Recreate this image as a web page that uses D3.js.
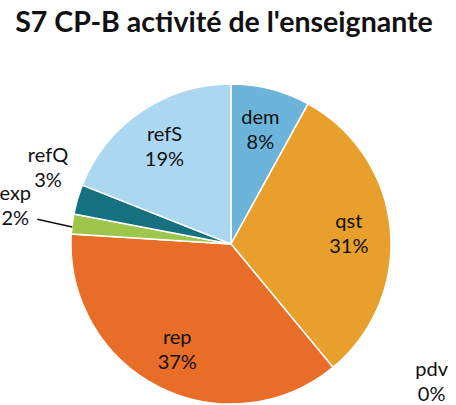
<!DOCTYPE html>
<html lang="fr">
<head>
  <meta charset="UTF-8">
  <title>S7 CP-B activité de l'enseignante</title>
  <script src="https://d3js.org/d3.v7.min.js"></script>
  <style>
    body { margin: 0; background: #fff; }
    text { font-family: Lato, "Open Sans", sans-serif; fill: #111; }
  </style>
</head>
<body>
  <svg width="456" height="405"></svg>

  <script>
    // categories, in drawing order (clockwise from 12 o'clock)
    const categories = ["dem", "qst", "pdv", "rep", "exp", "refQ", "refS"];
    const percents = [8, 31, 0, 37, 2, 3, 19];
    const colors = ["#6cb4da", "#e89f2b", "#9aa0a6", "#e86d28", "#9cc74c", "#15707f", "#acd7f1"];

    // labels that sit outside the pie: radius factor and angle nudge (deg)
    const outside = {
      exp:  { k: 1.37, shift: 3, leader: true },
      refQ: { k: 1.24, shift: 6.5 },
      pdv:  { k: 1.52, shift: -16 }
    };

    const svg = d3.select("svg");
    const cx = 231, cy = 244, radius = 160;

    // title, fitted to the width it has in the picture
    const title = svg.append("text")
        .attr("x", 224)
        .attr("y", 32)
        .attr("text-anchor", "middle")
        .style("font-weight", "bold")
        .style("font-size", "28px")
        .text("S7 CP-B activité de l'enseignante");
    const w = title.node().getComputedTextLength();
    title.style("font-size", (28 * 418 / w) + "px");

    const data = categories.map((c, i) => ({ name: c, value: percents[i], color: colors[i] }));

    const pie = d3.pie().sort(null).value(d => d.value);
    const arc = d3.arc().innerRadius(0).outerRadius(radius);
    const arcs = pie(data);

    const g = svg.append("g").attr("transform", `translate(${cx},${cy})`);

    g.selectAll("path")
      .data(arcs.filter(d => d.data.value > 0))
      .enter().append("path")
        .attr("d", arc)
        .attr("fill", d => d.data.color)
        .attr("stroke", "#fff")
        .attr("stroke-width", 1.5);

    const polar = (r, a) => [r * Math.sin(a), -r * Math.cos(a)];

    arcs.forEach(d => {
      const mid = (d.startAngle + d.endAngle) / 2;
      const o = outside[d.data.name];
      let x, y;
      if (o) {
        [x, y] = polar(radius * o.k, mid + o.shift * Math.PI / 180);
      } else {
        [x, y] = polar(radius * 0.74, mid);
      }
      const t = g.append("text")
          .attr("text-anchor", "middle")
          .style("font-size", "20px");
      t.append("tspan").attr("x", x).attr("y", y - 5).text(d.data.name);
      t.append("tspan").attr("x", x).attr("y", y + 20).text(d.data.value + "%");

      if (o && o.leader) {
        const [ex, ey] = polar(radius, mid);
        g.append("line")
          .attr("x1", x + 22).attr("y1", y + 14)
          .attr("x2", ex).attr("y2", ey + 3)
          .attr("stroke", "#111")
          .attr("stroke-width", 1.5);
      }
    });
  </script>
</body>
</html>
